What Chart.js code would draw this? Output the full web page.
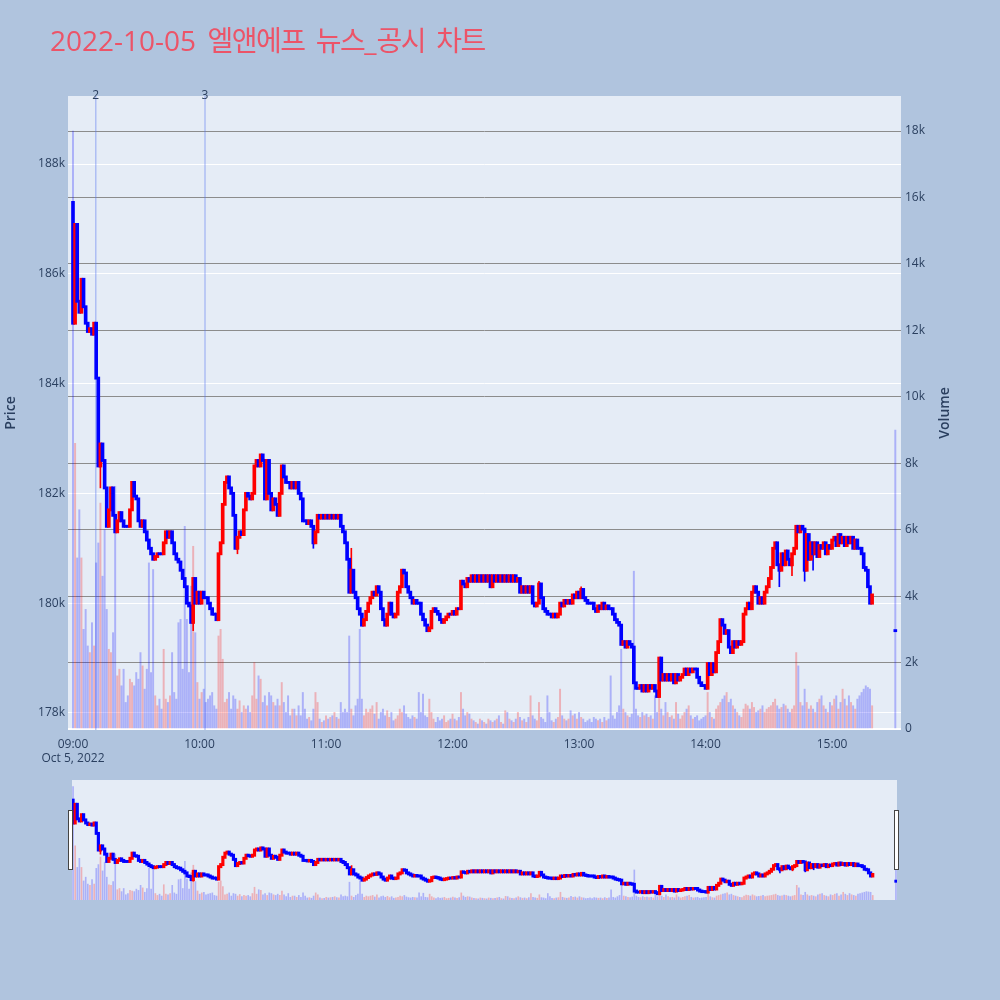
<!DOCTYPE html>
<html><head><meta charset="utf-8">
<script src="https://cdn.jsdelivr.net/npm/chart.js@4.4.0/dist/chart.umd.min.js"></script>
<style>
html,body{margin:0;padding:0;background:#B0C4DE;width:1000px;height:1000px;overflow:hidden}
#title{position:absolute;left:50px;top:26px;font-size:28px;line-height:28px;font-family:"Open Sans","Noto Sans CJK KR",sans-serif;color:#EC5468;white-space:nowrap;word-spacing:4px}
#title .k{letter-spacing:-1.5px}
#main{position:absolute;left:0;top:0}
#slider{position:absolute;left:72px;top:780px}
.handle{position:absolute;width:3px;height:58px;background:#fff;border:1px solid #444;top:810px}
</style></head><body>
<canvas id="main" width="1000" height="1000"></canvas>
<canvas id="slider" width="825" height="120"></canvas>
<div id="title">2022-10-05 <span class="k">엘앤에프</span> <span class="k">뉴스</span>_<span class="k">공시</span> <span class="k">차트</span></div>
<div class="handle" style="left:68px"></div>
<div class="handle" style="left:894px"></div>
<script>
// ---- data (one entry per minute from 09:00) ----
const firstOpen = 187300;
const closes = [
185100,186900,185500,185300,185900,185400,185100,184950,185000,184900,
185100,184100,182500,182900,182600,182100,181400,181700,182100,181600,
181300,181500,181650,181500,181400,181400,181400,181700,182200,181950,
181900,181500,181400,181500,181300,181150,181000,180900,180800,180850,
180900,180900,180900,181100,181300,181200,181300,181100,180900,180800,
180750,180600,180450,180300,180000,179950,179650,180450,180000,180200,
180000,180200,180100,180100,180000,179900,179800,179800,179700,180900,
181100,181800,182200,182300,182100,182000,181600,181000,181200,181300,
181250,181700,182000,181950,181900,182000,182500,182600,182500,182700,
182600,181900,182600,182000,181700,181900,181800,181600,182000,182500,
182300,182200,182200,182100,182200,182100,182200,182000,181900,181500,
181500,181450,181500,181400,181100,181300,181600,181550,181600,181550,
181600,181550,181600,181550,181600,181550,181600,181400,181300,181100,
180800,180200,180600,180200,180100,179900,179800,179600,179700,179850,
180000,180100,180200,180150,180300,180200,179900,179700,179600,179800,
180000,179800,179750,179800,180200,180300,180600,180550,180300,180200,
180100,180000,180050,180000,180000,179800,179700,179600,179500,179550,
179850,179900,179850,179800,179700,179650,179700,179750,179800,179800,
179850,179800,179900,179900,180400,180350,180300,180450,180400,180500,
180400,180500,180400,180500,180400,180500,180400,180500,180300,180500,
180400,180500,180400,180500,180400,180500,180400,180500,180400,180500,
180400,180450,180200,180300,180200,180300,180200,180300,180000,179950,
180000,180350,180100,179900,179850,179800,179800,179750,179800,179750,
179800,180000,179950,180050,180000,180050,180000,180150,180100,180200,
180100,180250,180100,180050,180000,180000,180000,179900,179850,179950,
179900,180000,179900,179950,179900,179900,179800,179700,179650,179600,
179250,179300,179200,179300,179250,179200,178550,178450,178450,178500,
178400,178500,178400,178500,178450,178500,178400,178300,179000,178600,
178700,178600,178700,178600,178700,178550,178700,178600,178650,178700,
178800,178700,178800,178750,178800,178800,178650,178550,178500,178500,
178450,178900,178700,178900,178750,179100,179300,179700,179600,179450,
179500,179200,179100,179300,179200,179300,179250,179300,179800,179900,
180000,179900,180200,180300,180200,180000,180100,180000,180200,180300,
180450,180650,181000,181100,180700,180600,180900,180700,180950,180800,
180700,180900,181000,181400,181300,181400,181350,180600,181250,180800,
181100,180900,181100,180850,181050,181000,181100,180900,181050,181000,
181150,181200,181050,181250,181100,181200,181050,181200,181100,181200,
181000,181150,181000,181000,180900,180650,180600,180300,180000,180150
];
const volumes = [
18000,8600,5150,6600,5150,3000,3600,2500,2300,3200,
2500,5000,5600,6800,4600,6000,3600,2400,2300,2900,
7300,1600,1800,1300,1800,800,1000,1500,1400,1300,
1700,1500,2300,1900,1200,1800,5000,1700,4800,1000,
700,900,600,2400,900,800,1000,2300,1100,900,
3200,3300,1800,6100,3300,1700,4300,5500,2900,1400,
900,1100,1200,800,900,1000,1100,700,600,2800,
3000,2100,800,900,1100,600,1000,900,600,850,
500,700,600,700,500,1000,2000,900,1600,1500,
800,1000,700,1100,1000,800,700,900,700,1400,
800,500,1000,400,600,600,400,700,400,1100,
600,300,350,250,600,1100,800,300,200,250,
400,300,350,400,500,350,300,800,500,600,
500,2800,600,400,700,900,3000,900,400,600,
500,600,700,450,800,300,500,600,400,550,
350,500,250,300,400,600,500,700,450,350,
300,400,350,300,1100,500,1050,400,350,900,
500,300,200,350,250,300,400,200,250,300,
450,300,250,350,1100,600,400,500,450,300,
250,200,150,300,250,200,150,300,250,200,
250,300,400,200,150,550,500,300,250,200,
300,500,350,250,300,200,350,1000,400,300,
250,800,350,300,200,1000,500,250,200,300,
350,1200,400,300,250,300,550,400,450,300,
500,350,300,200,250,300,200,350,300,250,
300,200,350,250,300,1600,400,300,500,700,
2400,600,500,400,350,450,4750,600,400,350,
500,400,450,350,400,300,1000,500,2100,600,
400,800,500,350,400,300,800,450,300,400,
500,600,700,400,300,350,400,250,300,350,
400,1100,500,350,300,600,700,800,900,1000,
1100,800,900,700,600,500,400,350,600,750,
700,600,800,650,500,550,600,700,500,600,
650,700,800,900,700,600,650,750,700,600,
500,600,700,2300,1900,800,700,1200,800,600,
700,600,500,800,900,1000,700,600,500,800,
700,900,1000,600,800,1200,900,700,1000,800,
700,600,900,1000,1100,1200,1300,1250,1200,700
];
const lowWickMinutes = [13, 57, 78, 114, 335, 341, 347, 351];
const lowWickValues  = [182100, 179500, 180900, 181000, 180300, 180500, 180400, 180600];
const highWickMinutes = [132, 221, 241];
const highWickValues  = [181000, 180400, 180300];
const auctionMinute = 390, auctionPrice = 179500, auctionVolume = 9000;
const priceTicks = [178000,180000,182000,184000,186000,188000];
const volumeTicks = [0,2000,4000,6000,8000,10000,12000,14000,16000,18000];
const timeTicks = [0,60,120,180,240,300,360];
const timeLabels = ['09:00','10:00','11:00','12:00','13:00','14:00','15:00'];
const dateLabel = 'Oct 5, 2022';
const newsMinutes = [10.8, 62.6];
const newsLabels = ['2','3'];

// ---- build candles ----
const candles = closes.map((c,i)=>{
  const o = i===0 ? firstOpen : closes[i-1];
  return {m:i, o, c, h:Math.max(o,c), l:Math.min(o,c), v:volumes[i]};
});
lowWickMinutes.forEach((m,k)=>{candles[m].l=Math.min(candles[m].l,lowWickValues[k]);});
highWickMinutes.forEach((m,k)=>{candles[m].h=Math.max(candles[m].h,highWickValues[k]);});
candles.push({m:auctionMinute,o:auctionPrice,c:auctionPrice,h:auctionPrice,l:auctionPrice,v:auctionVolume});

const UP='#FF0000', DOWN='#0000FF', UPV='rgba(255,0,0,0.25)', DOWNV='rgba(0,0,255,0.25)';
const isUp = k => k.c > k.o;
const PMIN=177690, PMAX=189239, VMIN=-30, VMAX=19054;
const FONT='"Open Sans", "Noto Sans CJK KR", sans-serif';
const TXT='#2a3f5f';

function datasets(bodyPad, bodyW, wickW, volW){
  return [
    {label:'vol', yAxisID:'y2', order:3, grouped:false, barThickness:volW,
     data:candles.map(k=>({x:k.m,y:k.v})),
     backgroundColor:candles.map(k=>isUp(k)?UPV:DOWNV)},
    {label:'wick', yAxisID:'y', order:2, grouped:false, barThickness:wickW,
     data:candles.map(k=>({x:k.m,y:[k.l,k.h]})),
     backgroundColor:candles.map(k=>isUp(k)?UP:DOWN)},
    {label:'body', yAxisID:'y', order:1, grouped:false, barThickness:bodyW,
     data:candles.map(k=>({x:k.m,y:[Math.min(k.o,k.c)-bodyPad,Math.max(k.o,k.c)+bodyPad]})),
     backgroundColor:candles.map(k=>isUp(k)?UP:DOWN)}
  ];
}

const bgPlugin = {id:'bg', beforeDraw(ch){const a=ch.chartArea,c=ch.ctx;c.save();c.fillStyle='#E5ECF6';c.fillRect(a.left,a.top,a.right-a.left,a.bottom-a.top);c.restore();}};

const newsPlugin = {id:'news',
  beforeDatasetsDraw(ch){const a=ch.chartArea,c=ch.ctx,x=ch.scales.x;c.save();c.strokeStyle='rgba(90,120,240,0.4)';c.lineWidth=1.5;
    newsMinutes.forEach(m=>{const px=x.getPixelForValue(m);c.beginPath();c.moveTo(px,a.top);c.lineTo(px,a.bottom);c.stroke();});c.restore();},
  afterDraw(ch){const a=ch.chartArea,c=ch.ctx,x=ch.scales.x;c.save();c.fillStyle=TXT;c.font='12px '+FONT;c.textAlign='center';c.textBaseline='middle';
    newsMinutes.forEach((m,i)=>{c.fillText(newsLabels[i],x.getPixelForValue(m),a.top);});
    c.font='600 14px '+FONT;
    c.translate(11,(a.top+a.bottom)/2);c.rotate(-Math.PI/2);c.fillText('Price',0,0);c.restore();
    c.save();c.fillStyle=TXT;c.font='600 14px '+FONT;c.textAlign='center';c.textBaseline='middle';
    c.translate(945,(a.top+a.bottom)/2);c.rotate(-Math.PI/2);c.fillText('Volume',0,0);c.restore();}
};

new Chart(document.getElementById('main'),{
  type:'bar',
  data:{datasets:datasets(20,3,1,1.3)},
  options:{responsive:false,animation:false,events:[],
    layout:{padding:{top:96,left:0,right:0,bottom:0}},
    plugins:{legend:{display:false},tooltip:{enabled:false}},
    scales:{
      x:{type:'linear',min:-2.37,max:392.7,offset:false,
        grid:{display:false,drawTicks:false},border:{display:false},
        afterBuildTicks:s=>{s.ticks=timeTicks.map(v=>({value:v}));},
        afterFit:s=>{s.height=270;},
        ticks:{color:TXT,font:{family:FONT,size:12},padding:7,maxRotation:0,autoSkip:false,
          callback:(v)=>{const i=timeTicks.indexOf(v);if(i<0)return '';return i===0?[timeLabels[0],dateLabel]:timeLabels[i];}}},
      y:{type:'linear',position:'left',min:PMIN,max:PMAX,
        grid:{color:'#ffffff',lineWidth:1,drawTicks:false},border:{display:false},
        afterBuildTicks:s=>{s.ticks=priceTicks.map(v=>({value:v}));},
        afterFit:s=>{s.width=68;},
        ticks:{color:TXT,font:{family:FONT,size:12},padding:3,callback:v=>(v/1000)+'k'}},
      y2:{type:'linear',position:'right',min:VMIN,max:VMAX,
        grid:{color:c=>c.tick&&c.tick.value===0?'#ffffff':'#8c8c8c',lineWidth:c=>c.tick&&c.tick.value===0?2:1,drawTicks:false},border:{display:false},
        afterBuildTicks:s=>{s.ticks=volumeTicks.map(v=>({value:v}));},
        afterFit:s=>{s.width=99;},
        ticks:{color:TXT,font:{family:FONT,size:12},padding:4,callback:v=>v===0?'0':(v/1000)+'k'}}
    }},
  plugins:[bgPlugin,newsPlugin]
});

new Chart(document.getElementById('slider'),{
  type:'bar',
  data:{datasets:datasets(110,2.5,1,1)},
  options:{responsive:false,animation:false,events:[],
    layout:{padding:0},
    plugins:{legend:{display:false},tooltip:{enabled:false}},
    scales:{
      x:{type:'linear',min:-0.5,max:390.5,offset:false,display:false},
      y:{type:'linear',min:PMIN,max:PMAX,display:false},
      y2:{type:'linear',min:VMIN,max:VMAX,display:false}
    }},
  plugins:[bgPlugin]
});
</script>
</body></html>
